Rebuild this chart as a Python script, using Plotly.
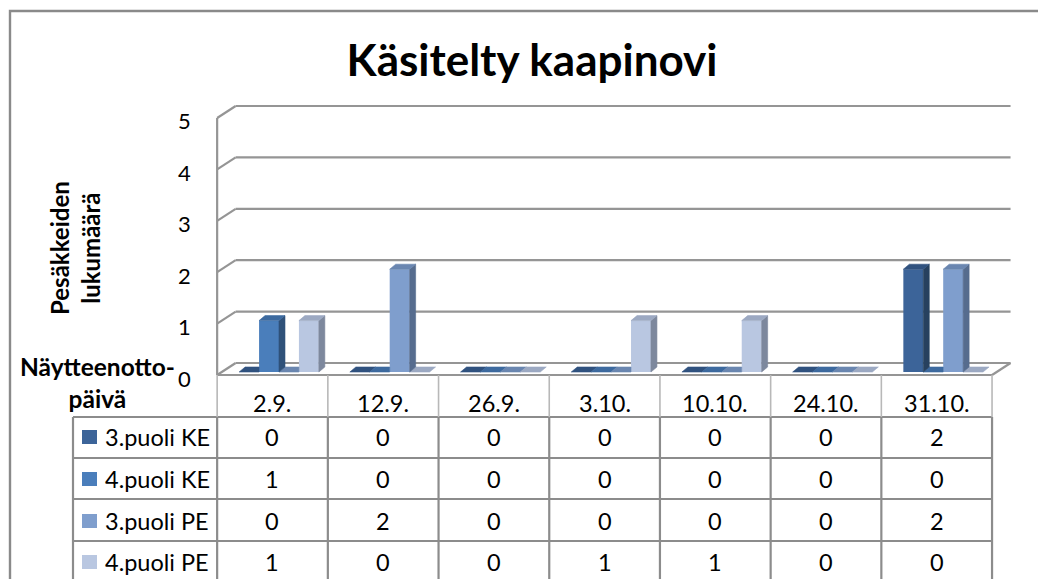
import plotly.graph_objects as go

# ---------------- data ----------------
categories = ["2.9.", "12.9.", "26.9.", "3.10.", "10.10.", "24.10.", "31.10."]
series_names = ["3.puoli KE", "4.puoli KE", "3.puoli PE", "4.puoli PE"]
puoli3_KE = [0, 0, 0, 0, 0, 0, 2]
puoli4_KE = [1, 0, 0, 0, 0, 0, 0]
puoli3_PE = [0, 2, 0, 0, 0, 0, 2]
puoli4_PE = [1, 0, 0, 1, 1, 0, 0]
y_ticks = [0, 1, 2, 3, 4, 5]

title_text = "Käsitelty kaapinovi"
y_title_text = "Pesäkkeiden<br>lukumäärä"
x_title_text = "Näytteenotto-<br>päivä"

series_values = [puoli3_KE, puoli4_KE, puoli3_PE, puoli4_PE]

# ---------------- styling / geometry ----------------
W, H = 1046, 579
OFF = 8  # the page body has an 8px margin; positions below are window pixels
FONT = "Lato"
front_colors = ["#3C6499", "#4A7EBB", "#7F9ECD", "#B9C7E1"]
side_colors = ["#27415F", "#2F5179", "#566C8E", "#7D889D"]
top_colors = ["#30527F", "#3D6A9F", "#6A86B0", "#9CA9C2"]
GRID = "#959595"
TABLE_LINE = "#8C8C8C"
TABLE_LINE_LIGHT = "#B8B8B8"


def px(x):
    return (x - OFF) / W


def py(y):
    return 1 - (y - OFF) / H


X_C0, X_UNIT = 279.0, 110.7   # window pixel of category 0 centre, pixels per category
Y_0, Y_UNIT = 372.0, 51.4     # window pixel of value 0, pixels per unit
XR = [-0.62, 6.68]
YR = [-0.12, 5.4]
dom_x = [px(X_C0 + X_UNIT * XR[0]), px(X_C0 + X_UNIT * XR[1])]
dom_y = [py(Y_0 - Y_UNIT * YR[0]), py(Y_0 - Y_UNIT * YR[1])]

BAR_W = 0.18
GROUP_W = BAR_W * len(series_names)
DEPTH_DX, DEPTH_DY = 6 / X_UNIT, 5 / Y_UNIT
FRONT_DX, FRONT_DY = -6.5 / X_UNIT, -3 / Y_UNIT
BACK_DX, BACK_DY = 12 / X_UNIT, 9 / Y_UNIT

n_cat = len(categories)
xpos = list(range(n_cat))

fig = go.Figure()

# front faces of the columns
for k, (name, vals) in enumerate(zip(series_names, series_values)):
    fig.add_trace(go.Bar(
        x=xpos, y=vals, name=name, width=BAR_W,
        offset=-GROUP_W / 2 + k * BAR_W,
        marker=dict(color=front_colors[k], line=dict(width=0)),
        showlegend=False,
    ))


def poly_trace(xs, ys, color):
    return go.Scatter(x=xs, y=ys, mode="lines", fill="toself", fillcolor=color,
                      line=dict(width=0.6, color=color), hoverinfo="skip",
                      showlegend=False)


zero_traces, side_traces, top_traces = [], [], []
for k, vals in enumerate(series_values):
    zx, zy, sx, sy, tx, ty = [], [], [], [], [], []
    for c in xpos:
        v = vals[c]
        x0 = c - GROUP_W / 2 + k * BAR_W
        x1 = x0 + BAR_W
        nxt = series_values[k + 1][c] if k + 1 < len(series_values) else None
        if v == 0:
            right = x1 if (nxt is not None and nxt > 0) else x1 + DEPTH_DX
            zx += [x0, x1, right, x0 + DEPTH_DX, x0, None]
            zy += [0, 0, DEPTH_DY, DEPTH_DY, 0, None]
        else:
            if nxt is None or nxt < v:
                sx += [x1, x1, x1 + DEPTH_DX, x1 + DEPTH_DX, x1, None]
                sy += [0, v, v + DEPTH_DY, DEPTH_DY, 0, None]
            tx += [x0, x1, x1 + DEPTH_DX, x0 + DEPTH_DX, x0, None]
            ty += [v, v, v + DEPTH_DY, v + DEPTH_DY, v, None]
    if zx:
        zero_traces.append(poly_trace(zx, zy, top_colors[k]))
    if sx:
        side_traces.append(poly_trace(sx, sy, side_colors[k]))
    if tx:
        top_traces.append(poly_trace(tx, ty, top_colors[k]))

for t in zero_traces + side_traces + top_traces:
    fig.add_trace(t)

shapes = []
xl_f, xr_f = -0.5 + FRONT_DX, n_cat - 0.5 + FRONT_DX
xl_b, xr_b = -0.5 + BACK_DX, n_cat - 0.5 + BACK_DX
gl = dict(color=GRID, width=2.2)
# back wall gridlines + side diagonals
for v in y_ticks:
    shapes.append(dict(type="line", xref="x", yref="y", layer="below",
                       x0=xl_b, x1=xr_b, y0=v + BACK_DY, y1=v + BACK_DY, line=gl))
    shapes.append(dict(type="line", xref="x", yref="y", layer="below",
                       x0=xl_f, x1=xl_b, y0=v + FRONT_DY, y1=v + BACK_DY, line=gl))
# front vertical axis
shapes.append(dict(type="line", xref="x", yref="y", layer="below",
                   x0=xl_f, x1=xl_f, y0=FRONT_DY, y1=max(y_ticks) + FRONT_DY, line=gl))
# floor front edge & right edge
shapes.append(dict(type="line", xref="x", yref="y", layer="below",
                   x0=xl_f, x1=xr_f, y0=FRONT_DY, y1=FRONT_DY, line=gl))
shapes.append(dict(type="line", xref="x", yref="y", layer="below",
                   x0=xr_f, x1=xr_b, y0=FRONT_DY, y1=BACK_DY, line=gl))

# ---------------- data table ----------------
TBL_TOP = 375
row_lines = [417, 458, 499, 541]
row_centers = [437, 479, 521, 562]
TBL_BOTTOM = 620
TBL_LEFT = 73
header_center = 403
right_px = X_C0 + X_UNIT * xr_f

for yl in row_lines:
    shapes.append(dict(type="line", xref="paper", yref="paper",
                       x0=px(TBL_LEFT), x1=px(right_px), y0=py(yl), y1=py(yl),
                       line=dict(color=TABLE_LINE, width=2.2)))
shapes.append(dict(type="line", xref="paper", yref="paper",
                   x0=px(TBL_LEFT), x1=px(TBL_LEFT), y0=py(row_lines[0]), y1=py(TBL_BOTTOM),
                   line=dict(color=TABLE_LINE, width=2.2)))
for c in range(n_cat + 1):
    xb = c - 0.5 + FRONT_DX
    shapes.append(dict(type="line", xref="x", yref="paper",
                       x0=xb, x1=xb, y0=py(TBL_TOP), y1=py(row_lines[0]),
                       line=dict(color=TABLE_LINE_LIGHT, width=1.6)))
    shapes.append(dict(type="line", xref="x", yref="paper",
                       x0=xb, x1=xb, y0=py(row_lines[0]), y1=py(TBL_BOTTOM),
                       line=dict(color=TABLE_LINE, width=2.2)))

# legend swatches in the table
for k in range(len(series_names)):
    yc = row_centers[k]
    shapes.append(dict(type="rect", xref="paper", yref="paper",
                       x0=px(82), x1=px(97), y0=py(yc + 7), y1=py(yc - 7),
                       fillcolor=front_colors[k], line=dict(width=0)))

# chart border
shapes.append(dict(type="rect", xref="paper", yref="paper",
                   x0=px(10), x1=1.1, y0=-0.1, y1=py(11),
                   line=dict(color="#8A8A8A", width=2.4), fillcolor="rgba(0,0,0,0)"))

annotations = []
# y-axis tick labels, placed on the axis scale
for v in y_ticks:
    annotations.append(dict(xref="paper", yref="y", x=px(193), y=v, yshift=-6,
                            text=str(v), showarrow=False,
                            font=dict(family=FONT, size=22, color="black"),
                            xanchor="right", yanchor="middle"))

cell_font = dict(family=FONT, size=23.5, color="black")
for c, lab in enumerate(categories):
    annotations.append(dict(xref="x", yref="paper", x=c + FRONT_DX, y=py(header_center),
                            text=lab, showarrow=False, font=cell_font,
                            xanchor="center", yanchor="middle"))
for k, (name, vals) in enumerate(zip(series_names, series_values)):
    annotations.append(dict(xref="paper", yref="paper", x=px(103), y=py(row_centers[k]),
                            text=name, showarrow=False, font=cell_font,
                            xanchor="left", yanchor="middle"))
    for c, v in enumerate(vals):
        annotations.append(dict(xref="x", yref="paper", x=c + FRONT_DX, y=py(row_centers[k]),
                                text=str(v), showarrow=False, font=cell_font,
                                xanchor="center", yanchor="middle"))

annotations.append(dict(xref="paper", yref="paper", x=px(75), y=py(248),
                        text=y_title_text, textangle=-90, showarrow=False,
                        font=dict(family=FONT, size=24, color="black", weight="bold"),
                        xanchor="center", yanchor="middle"))
annotations.append(dict(xref="paper", yref="paper", x=px(97), y=py(382),
                        text=x_title_text, showarrow=False, align="center",
                        font=dict(family=FONT, size=24.5, color="black", weight="bold"),
                        xanchor="center", yanchor="middle"))

fig.update_layout(
    width=W, height=H, autosize=False,
    margin=dict(l=0, r=0, t=0, b=0),
    paper_bgcolor="white", plot_bgcolor="white",
    barmode="group", bargap=0.28, bargroupgap=0,
    title=dict(text=title_text, x=px(532), y=py(61), xanchor="center", yanchor="middle",
               font=dict(family=FONT, size=44, color="black", weight="bold")),
    xaxis=dict(range=XR, domain=dom_x, showgrid=False, zeroline=False, showline=False,
               showticklabels=False, ticks="", fixedrange=True),
    yaxis=dict(range=YR, domain=dom_y, tickvals=y_ticks, showgrid=False, zeroline=False,
               showline=False, ticks="", showticklabels=False, fixedrange=True),
    shapes=shapes,
    annotations=annotations,
    showlegend=False,
)

fig.write_html("out.html", config={"displayModeBar": False})
